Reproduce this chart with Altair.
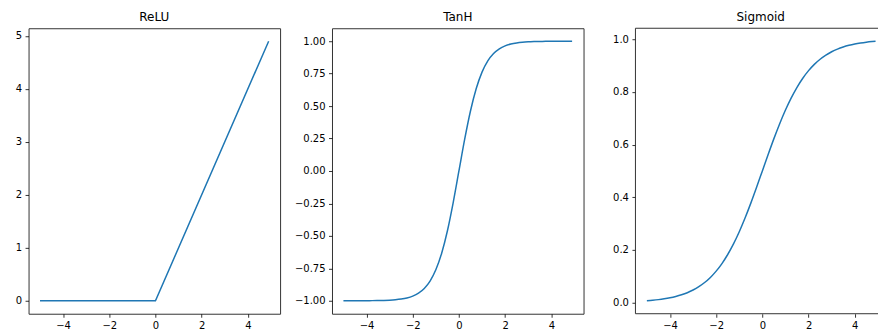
import altair as alt
import pandas as pd

# Sample points of the three activation curves
x_relu = [-5.0, 0.0, 4.9]
y_relu = [0.0, 0.0, 4.9]

x_s = [-5.0, -4.75, -4.5, -4.25, -4.0, -3.75, -3.5, -3.25, -3.0, -2.75,
       -2.5, -2.25, -2.0, -1.75, -1.5, -1.25, -1.0, -0.75, -0.5, -0.25,
       0.0, 0.25, 0.5, 0.75, 1.0, 1.25, 1.5, 1.75, 2.0, 2.25,
       2.5, 2.75, 3.0, 3.25, 3.5, 3.75, 4.0, 4.25, 4.5, 4.75, 4.9]

y_tanh = [-0.9999, -0.9999, -0.9998, -0.9996, -0.9993, -0.9989, -0.9982, -0.9970, -0.9951, -0.9919,
          -0.9866, -0.9780, -0.9640, -0.9414, -0.9051, -0.8483, -0.7616, -0.6351, -0.4621, -0.2449,
          0.0, 0.2449, 0.4621, 0.6351, 0.7616, 0.8483, 0.9051, 0.9414, 0.9640, 0.9780,
          0.9866, 0.9919, 0.9951, 0.9970, 0.9982, 0.9989, 0.9993, 0.9996, 0.9998, 0.9999, 0.9999]

y_sigmoid = [0.0067, 0.0086, 0.0110, 0.0141, 0.0180, 0.0230, 0.0293, 0.0373, 0.0474, 0.0601,
             0.0759, 0.0953, 0.1192, 0.1480, 0.1824, 0.2227, 0.2689, 0.3208, 0.3775, 0.4378,
             0.5, 0.5622, 0.6225, 0.6792, 0.7311, 0.7773, 0.8176, 0.8520, 0.8808, 0.9047,
             0.9241, 0.9399, 0.9526, 0.9627, 0.9707, 0.9770, 0.9820, 0.9859, 0.9890, 0.9914, 0.9926]

x_ticks = [-4, -2, 0, 2, 4]
relu_ticks = [0, 1, 2, 3, 4, 5]
tanh_ticks = [-1.0, -0.75, -0.5, -0.25, 0.0, 0.25, 0.5, 0.75, 1.0]
sigmoid_ticks = [0.0, 0.2, 0.4, 0.6, 0.8, 1.0]

LINE = "#1f77b4"
FRAME = "#333333"
W, H = 252, 286
X_DOMAIN = [-5.495, 5.395]
# the last panel runs off the right edge of the figure
W_LAST = 243
X_DOMAIN_LAST = [-5.495, -5.495 + W_LAST * (X_DOMAIN[1] - X_DOMAIN[0]) / W]


def panel(xs, ys, y_domain, y_ticks, y_fmt, interp,
          width=W, x_domain=X_DOMAIN):
    df = pd.DataFrame({"x": xs, "y": ys})
    return (
        alt.Chart(df)
        .mark_line(color=LINE, strokeWidth=1.5, interpolate=interp, clip=True)
        .encode(
            x=alt.X("x:Q",
                    scale=alt.Scale(domain=x_domain, nice=False, zero=False),
                    axis=alt.Axis(values=x_ticks, format="d", title=None)),
            y=alt.Y("y:Q",
                    scale=alt.Scale(domain=y_domain, nice=False, zero=False),
                    axis=alt.Axis(values=y_ticks, format=y_fmt, title=None)),
        )
        .properties(width=width, height=H)
    )


relu = panel(x_relu, y_relu, [-0.245, 5.145], relu_ticks, "d",
             "linear").properties(title="ReLU")
tanh = panel(x_s, y_tanh, [-1.0999, 1.0999], tanh_ticks, ".2f",
             "monotone").properties(title="TanH")

# open frame (left, top, bottom) for the cut-off panel
one = alt.Data(values=[{"k": 0}])
edge_l = alt.Chart(one).mark_rule(color=FRAME, strokeWidth=1).encode(
    x=alt.value(0), y=alt.value(0), y2=alt.value(H))
edge_t = alt.Chart(one).mark_rule(color=FRAME, strokeWidth=1).encode(
    x=alt.value(0), x2=alt.value(W_LAST), y=alt.value(0))
edge_b = alt.Chart(one).mark_rule(color=FRAME, strokeWidth=1).encode(
    x=alt.value(0), x2=alt.value(W_LAST), y=alt.value(H))
sigm_line = panel(x_s, y_sigmoid, [-0.0426, 1.0418], sigmoid_ticks,
                  ".1f", "monotone", width=W_LAST, x_domain=X_DOMAIN_LAST)
sigm = (
    alt.layer(sigm_line, edge_l, edge_t, edge_b)
    .properties(width=W_LAST, height=H,
                title=alt.TitleParams("Sigmoid", dx=4),
                view=alt.ViewConfig(strokeOpacity=0))
)

chart = (
    alt.hconcat(relu, tanh, sigm, spacing=52, bounds="flush")
    .properties(padding={"left": 14.6, "top": 10, "right": 0, "bottom": 0})
    .configure_view(stroke=FRAME, strokeWidth=1)
    .configure_axis(
        labelFont="DejaVu Sans", labelFontSize=10, labelColor="#000000",
        tickColor="#000000", tickSize=3.5, tickWidth=0.8, labelPadding=3.5,
        domain=False, grid=False,
    )
    .configure_title(font="DejaVu Sans", fontSize=12, fontWeight="normal",
                     color="#000000", offset=4)
)

chart.save("out.html", embed_options={"renderer": "svg", "actions": False})
